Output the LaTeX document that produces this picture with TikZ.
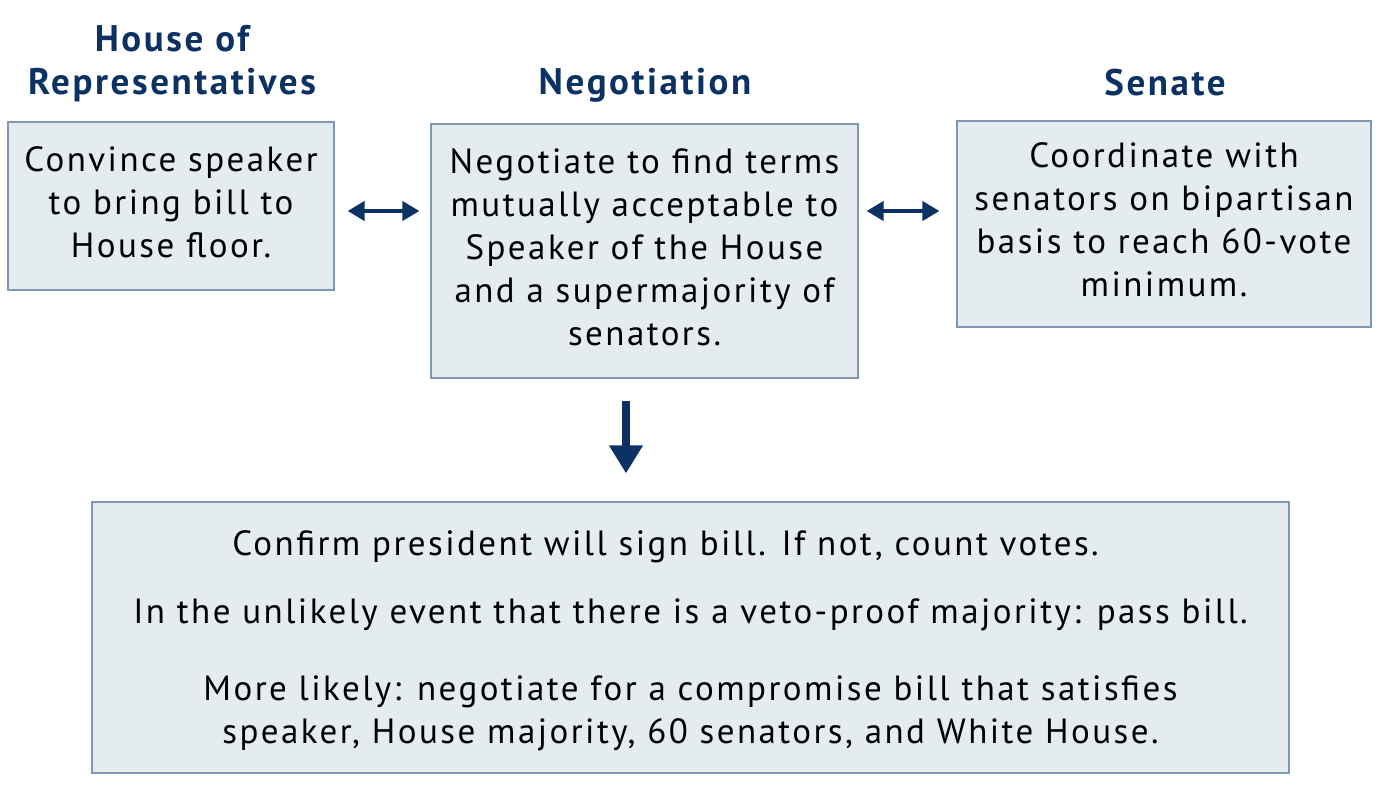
\documentclass[tikz,border=0pt]{standalone}
\usepackage{fontspec}
\setmainfont[LetterSpace=7]{PT Sans}
\usetikzlibrary{arrows.meta}
\definecolor{navy}{HTML}{0B3263}
\definecolor{boxfill}{HTML}{E5ECF0}
\definecolor{boxline}{HTML}{8098B3}
\tikzset{
  stage/.style={draw=boxline, fill=boxfill, line width=0.6pt, align=center, inner sep=0pt, text depth=4pt, font=\fontsize{17.5}{21.5}\selectfont},
  head/.style={text=navy, align=center, font=\bfseries\fontsize{18.5}{21.5}\selectfont},
  link/.style={navy, line width=2pt, {Triangle[width=9.5pt,length=8.5pt]}-{Triangle[width=9.5pt,length=8.5pt]}},
}
\begin{document}
\begin{tikzpicture}[x=0.5pt, y=-0.5pt]
\useasboundingbox (0,0) rectangle (1380,800);
% headings
\node[head] (hhouse) at (172,64) {House of\\Representatives};
\node[head] (hnego) at (645,85) {Negotiation};
\node[head] (hsenate) at (1165,83) {Senate};

% boxes
\node[stage, minimum width=163pt, minimum height=84pt] (house) at (171,206)
  {Convince speaker\\to bring bill to\\House floor.};
\node[stage, minimum width=213.5pt, minimum height=127pt] (nego) at (644.5,251)
  {Negotiate to find terms\\mutually acceptable to\\Speaker of the House\\and a supermajority of\\senators.};
\node[stage, minimum width=207pt, minimum height=103pt] (senate) at (1164,224)
  {Coordinate with\\senators on bipartisan\\basis to reach 60-vote\\minimum.};
\node[stage, text depth=0pt, minimum width=598.5pt, minimum height=135.5pt] (result) at (690.5,637.5)
  {Confirm president will sign bill. If not, count votes.\hspace*{25pt}\\[12.5pt]
   In the unlikely event that there is a veto-proof majority: pass bill.\\[17pt]
   More likely: negotiate for a compromise bill that satisfies\\
   speaker, House majority, 60 senators, and White House.};

% arrows
\coordinate (mid) at ([yshift=-2.5pt]house.east);
\draw[link, shorten <=6.5pt, shorten >=5.5pt] (mid) -- (nego.west |- mid);
\draw[link, shorten <=4pt, shorten >=8.5pt] (nego.east |- mid) -- (senate.west |- mid);
\draw[navy, line width=4pt, -{Triangle[width=16pt,length=14pt]}, shorten <=11pt, shorten >=14pt]
  ([xshift=-9.25pt]nego.south) -- ([xshift=-9.25pt]nego.south |- result.north);

\end{tikzpicture}
\end{document}
